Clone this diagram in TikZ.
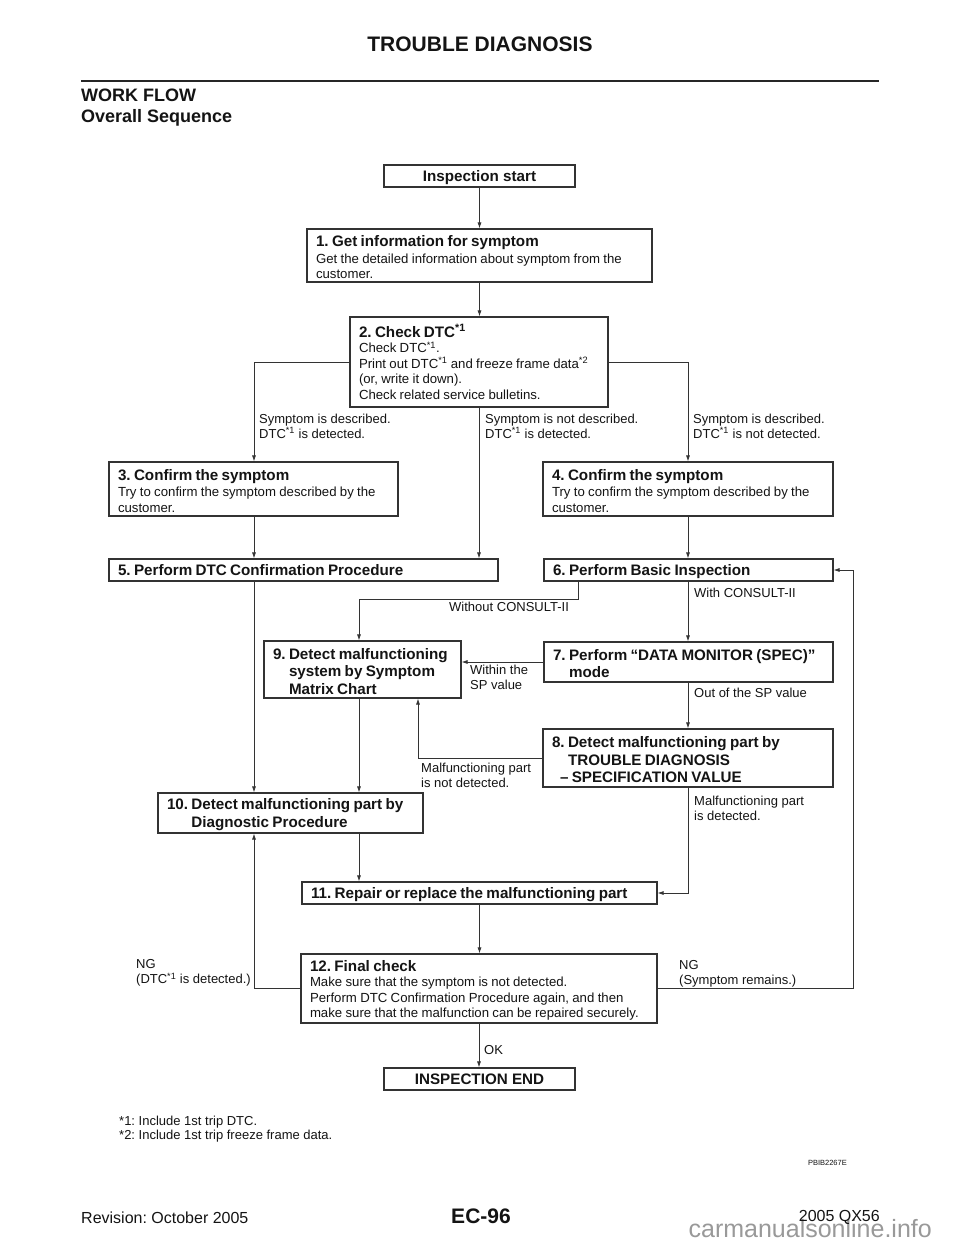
\documentclass[tikz,border=0pt]{standalone}
\usepackage{fontspec}
\setmainfont{Liberation Sans}
\usetikzlibrary{arrows.meta,calc}
\setlength\parindent{0pt}
\frenchspacing
\newcommand\tfont{\fontsize{15.2}{17.5}\selectfont\bfseries}
\newcommand\bfnt{\fontsize{13.2}{15.5}\selectfont}
\newcommand\lfnt{\fontsize{13}{15.3}\selectfont}
\newcommand\sx[1]{\textsuperscript{#1}}
\newcommand\tp{\par\kern-3.5pt}
\colorlet{tc}{black!92}
\colorlet{lc}{black!80}
\begin{document}
\frenchspacing
\begin{tikzpicture}[x=1pt,y=-1pt,
  box/.style={draw=lc, line width=1.1pt, inner xsep=9pt, inner ysep=0pt, align=left, text=tc},
  term/.style={draw=lc, line width=1.1pt, inner sep=0pt, align=center, text=tc, font=\tfont, minimum width=191pt, minimum height=22pt, text height=10.8pt, text depth=0pt},
  lab/.style={inner sep=0pt, align=left, text=tc, font=\lfnt},
  conn/.style={draw=lc, line width=0.8pt, -{Latex[length=6pt,width=4pt]}}]
\useasboundingbox (0,0) rectangle (960,1242);
\fill[white] (0,0) rectangle (960,1242);

% header
\node[text=tc, font=\fontsize{21}{24}\selectfont\bfseries, inner sep=0pt] (title) at (480,44) {TROUBLE DIAGNOSIS};
\coordinate (ruleL) at (81,81);
\coordinate (ruleR) at (879,81);
\draw[line width=2.4pt, black!85] (ruleL) -- (ruleR);
\node[text=tc, font=\fontsize{18}{21}\selectfont\bfseries, inner sep=0pt, anchor=west] (wf) at (81,95) {WORK FLOW};
\node[text=tc, font=\fontsize{18}{21}\selectfont\bfseries, inner sep=0pt, anchor=west] (os) at (81,118) {Overall Sequence};

% boxes
\node[term] (start) at (479.5,176) {Inspection start};
\node[box, minimum width=345pt, text width=327pt, minimum height=53pt] (b1) at (479.5,255.5)
  {{\tfont 1. Get information for symptom\par}\vskip1pt{\bfnt Get the detailed information about symptom from the\\customer.\par}\tp};
\node[box, minimum width=258pt, text width=240pt, minimum height=90pt] (b2) at (479,362)
  {{\tfont 2. Check DTC\sx{*1}\par}{\bfnt Check DTC\sx{*1}.\\Print out DTC\sx{*1} and freeze frame data\sx{*2}\\(or, write it down).\\Check related service bulletins.\par}};
\node[box, minimum width=289pt, text width=271pt, minimum height=54pt] (b3) at (253.5,489)
  {{\tfont 3. Confirm the symptom\par}\vskip1pt{\bfnt Try to confirm the symptom described by the\\customer.\par}\tp};
\node[box, minimum width=290pt, text width=272pt, minimum height=54pt] (b4) at (688,489)
  {{\tfont 4. Confirm the symptom\par}\vskip1pt{\bfnt Try to confirm the symptom described by the\\customer.\par}\tp};
\node[box, minimum width=389pt, text width=371pt, minimum height=22pt] (b5) at (303.5,570)
  {{\tfont 5. Perform DTC Confirmation Procedure\par}\tp};
\node[box, minimum width=289pt, text width=271pt, minimum height=22pt] (b6) at (688.5,570)
  {{\tfont 6. Perform Basic Inspection\par}\tp};
\node[box, minimum width=197pt, text width=179pt, minimum height=57pt] (b9) at (362.5,669.5)
  {{\tfont 9. Detect malfunctioning\\\phantom{9.\ }system by Symptom\\\phantom{9.\ }Matrix Chart\par}\tp};
\node[box, minimum width=289pt, text width=271pt, minimum height=40pt] (b7) at (688.5,662)
  {{\tfont 7. Perform “DATA MONITOR (SPEC)”\\\phantom{7.\ }mode\par}\tp};
\node[box, minimum width=290pt, text width=272pt, minimum height=58pt] (b8) at (688,758)
  {{\tfont 8. Detect malfunctioning part by\\\phantom{8.\ }TROUBLE DIAGNOSIS\\\hspace*{8pt}– SPECIFICATION VALUE\par}\tp};
\node[box, minimum width=265pt, text width=247pt, minimum height=40pt] (b10) at (290.5,813)
  {{\tfont 10. Detect malfunctioning part by\\\phantom{10.\ }Diagnostic Procedure\par}\tp};
\node[box, minimum width=355pt, text width=337pt, minimum height=22pt] (b11) at (479.5,893)
  {{\tfont 11. Repair or replace the malfunctioning part\par}\tp};
\node[box, minimum width=356pt, text width=338pt, minimum height=69pt] (b12) at (479,988.5)
  {{\tfont 12. Final check\par}{\bfnt Make sure that the symptom is not detected.\\Perform DTC Confirmation Procedure again, and then\\make sure that the malfunction can be repaired securely.\par}\tp};
\node[term] (end) at (479.5,1079) {INSPECTION END};

% helper coordinates
\coordinate (xL) at (254,0);
\coordinate (xM) at (359,0);
\coordinate (xR) at (688,0);
\coordinate (xW) at (578,0);
\coordinate (xN) at (418,0);
\coordinate (xE) at (853,0);
\coordinate (yW) at (0,599);

% connectors
\draw[conn] (start.south) -- (start.south |- b1.north);
\draw[conn] (b1.south) -- (b1.south |- b2.north);
\draw[conn] (b2.west) -| (xL |- b3.north);
\draw[conn] (b2.east) -| (xR |- b4.north);
\draw[conn] (b2.south) -- (b2.south |- b5.north);
\draw[conn] (xL |- b3.south) -- (xL |- b5.north);
\draw[conn] (xR |- b4.south) -- (xR |- b6.north);
\draw[conn] (xW |- b6.south) -- (xW |- yW) -| (xM |- b9.north);
\draw[conn] (xR |- b6.south) -- (xR |- b7.north);
\draw[conn] (b7.west) -- (b7.west -| b9.east);
\draw[conn] (xR |- b7.south) -- (xR |- b8.north);
\draw[conn] (b8.west) -| (xN |- b9.south);
\draw[conn] (xL |- b5.south) -- (xL |- b10.north);
\draw[conn] (xM |- b9.south) -- (xM |- b10.north);
\draw[conn] (xM |- b10.south) -- (xM |- b11.north);
\draw[conn] (xR |- b8.south) |- (b11.east);
\draw[conn] (b11.south) -- (b11.south |- b12.north);
\draw[conn] (b12.west) -| (xL |- b10.south);
\draw[conn] (b12.east) -| (xE |- b6.east) -- (b6.east);
\draw[conn] (b12.south) -- (b12.south |- end.north);

% connector labels
\node[lab, anchor=west] (l1) at (259,426) {Symptom is described.\\DTC\sx{*1} is detected.};
\node[lab, anchor=west] (l2) at (485,426) {Symptom is not described.\\DTC\sx{*1} is detected.};
\node[lab, anchor=west] (l3) at (693,426) {Symptom is described.\\DTC\sx{*1} is not detected.};
\node[lab, anchor=west] (lwo) at (449,607) {Without CONSULT-II};
\node[lab, anchor=west] (lwi) at (694,593) {With CONSULT-II};
\node[lab, anchor=west] (lsp) at (470,677.5) {Within the\\SP value};
\node[lab, anchor=west] (lout) at (694,693) {Out of the SP value};
\node[lab, anchor=west] (lmn) at (421,775) {Malfunctioning part\\is not detected.};
\node[lab, anchor=west] (lmd) at (694,808) {Malfunctioning part\\is detected.};
\node[lab, anchor=west] (lngl) at (136,972.5) {NG\\(DTC\sx{*1} is detected.)};
\node[lab, anchor=west] (lngr) at (679,973.5) {NG\\(Symptom remains.)};
\node[lab, anchor=west] (lok) at (484,1050) {OK};

% footnotes
\node[lab, anchor=west, font=\fontsize{13}{14.5}\selectfont] (fn) at (119,1129) {*1: Include 1st trip DTC.\\*2: Include 1st trip freeze frame data.};
\node[inner sep=0pt, anchor=east, text=tc, font=\fontsize{7.5}{9}\selectfont] (code) at (847,1163) {PBIB2267E};

% footer
\node[inner sep=0pt, anchor=west, text=tc, font=\fontsize{16}{19}\selectfont] (rev) at (81,1218) {Revision: October 2005};
\node[inner sep=0pt, text=tc, font=\fontsize{21}{24}\selectfont\bfseries] (page) at (481,1216) {EC-96};
\node[inner sep=0pt, anchor=east, text=black!40, font=\fontsize{25}{28}\selectfont] (wm) at (932,1229) {carmanualsonline.info};
\node[inner sep=0pt, anchor=east, text=tc, font=\fontsize{16}{19}\selectfont] (model) at (880,1217) {2005 QX56};
\end{tikzpicture}
\end{document}
